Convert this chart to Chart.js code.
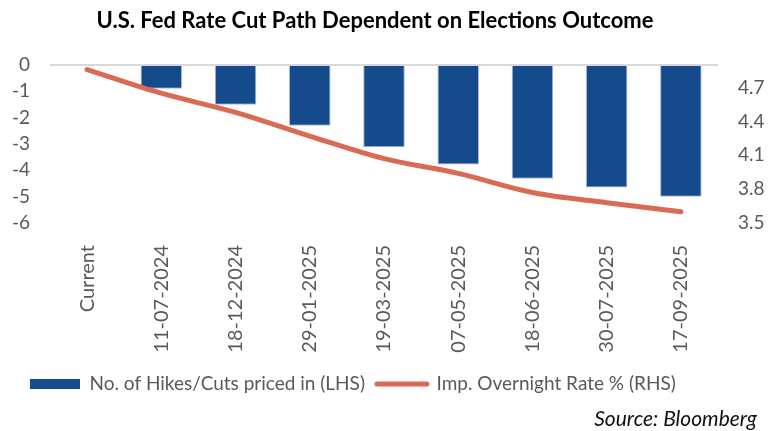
<!DOCTYPE html>
<html>
<head>
<meta charset="utf-8">
<script src="https://cdn.jsdelivr.net/npm/chart.js@4.4.1/dist/chart.umd.min.js"></script>
<style>
  html, body { margin: 0; padding: 0; background: #fff; }
  #wrap { width: 772px; height: 431px; }
</style>
</head>
<body>
<div id="wrap"><canvas id="fedChart" width="772" height="431"></canvas></div>
<script>
var MEETINGS = ['Current', '11-07-2024', '18-12-2024', '29-01-2025', '19-03-2025',
  '07-05-2025', '18-06-2025', '30-07-2025', '17-09-2025'];
var CUTS_PRICED = [0, -0.9, -1.51, -2.31, -3.12, -3.78, -4.32, -4.65, -5.0];
var OVERNIGHT_RATE = [4.86, 4.65, 4.48, 4.27, 4.07, 3.94, 3.77, 3.68, 3.60];
var LHS_TICKS = [-6, -5, -4, -3, -2, -1, 0];
var RHS_TICKS = [3.5, 3.8, 4.1, 4.4, 4.7];

var BAR_COLOR = '#154a8c';
var LINE_COLOR = '#db6a55';
var TEXT_GRAY = '#595959';

Chart.defaults.font.family = 'Lato, "Open Sans", sans-serif';
Chart.defaults.color = TEXT_GRAY;

// nudge title and legend the way the original sits on the page
var shiftPlugin = {
  id: 'shiftBlocks',
  afterLayout: function(chart) {
    if (chart.titleBlock) chart.titleBlock.right -= 22;
    if (chart.legend) chart.legend.left = 18;
  }
};

var sourcePlugin = {
  id: 'sourceNote',
  afterDraw: function(chart) {
    var ctx = chart.ctx;
    ctx.save();
    ctx.font = 'italic 21px Lato, "Open Sans", sans-serif';
    ctx.fillStyle = '#111';
    ctx.textAlign = 'right';
    ctx.textBaseline = 'middle';
    ctx.fillText('Source: Bloomberg', 757, 419);
    ctx.restore();
  }
};

new Chart(document.getElementById('fedChart'), {
  type: 'bar',
  data: {
    labels: MEETINGS,
    datasets: [{
      type: 'line',
      label: 'Imp. Overnight Rate % (RHS)',
      data: OVERNIGHT_RATE,
      yAxisID: 'yR',
      borderColor: LINE_COLOR,
      backgroundColor: LINE_COLOR,
      borderWidth: 5,
      borderCapStyle: 'round',
      pointRadius: 0,
      tension: 0.35,
      fill: false
    }, {
      type: 'bar',
      label: 'No. of Hikes/Cuts priced in (LHS)',
      data: CUTS_PRICED,
      yAxisID: 'yL',
      backgroundColor: BAR_COLOR,
      borderColor: '#a9bbd6',
      borderWidth: 1,
      borderSkipped: 'start',
      barPercentage: 1,
      categoryPercentage: 0.56
    }]
  },
  options: {
    responsive: false,
    animation: false,
    layout: { padding: { top: 0, left: 0, right: 0, bottom: 27.5 } },
    plugins: {
      title: {
        display: true,
        text: 'U.S. Fed Rate Cut Path Dependent on Elections Outcome',
        color: '#000',
        font: { size: 22, weight: 'bold' },
        padding: { top: 8, bottom: 30.6 }
      },
      legend: {
        position: 'bottom',
        align: 'start',
        labels: {
          color: TEXT_GRAY,
          font: { size: 19 },
          usePointStyle: true,
          pointStyleWidth: 50,
          boxHeight: 10,
          padding: 12,
          generateLabels: function(chart) {
            var items = Chart.defaults.plugins.legend.labels.generateLabels(chart);
            items.forEach(function(it) {
              var ds = chart.data.datasets[it.datasetIndex];
              if (ds.type === 'line') {
                it.pointStyle = 'line';
                it.lineWidth = 5;
                it.lineCap = 'round';
                it.strokeStyle = ds.borderColor;
              } else {
                it.pointStyle = 'rect';
                it.lineWidth = 0;
                it.fillStyle = ds.backgroundColor;
              }
              it.fontColor = TEXT_GRAY;
            });
            return items.reverse();
          }
        }
      },
      tooltip: { enabled: false }
    },
    scales: {
      x: {
        offset: true,
        grid: { display: false },
        border: { display: false },
        ticks: {
          color: TEXT_GRAY,
          font: { size: 20 },
          autoSkip: false,
          minRotation: 90,
          maxRotation: 90,
          padding: 14
        },
        afterFit: function(scale) { scale.height = 139.5; }
      },
      yL: {
        position: 'left',
        min: -6,
        max: 0,
        border: { display: false },
        grid: {
          drawTicks: false,
          lineWidth: 2,
          color: function(c) { return c.tick && c.tick.value === 0 ? '#d9d9d9' : 'rgba(0,0,0,0)'; }
        },
        ticks: {
          color: TEXT_GRAY,
          font: { size: 19 },
          padding: 20
        },
        afterBuildTicks: function(scale) {
          scale.ticks = LHS_TICKS.map(function(v) { return { value: v }; });
        },
        afterFit: function(scale) { scale.width = 50; }
      },
      yR: {
        position: 'right',
        min: 3.5,
        max: 4.9,
        border: { display: false },
        grid: { display: false, drawTicks: false },
        ticks: {
          color: TEXT_GRAY,
          font: { size: 19 },
          padding: 20,
          callback: function(v) { return v.toFixed(1); }
        },
        afterBuildTicks: function(scale) {
          scale.ticks = RHS_TICKS.map(function(v) { return { value: v }; });
        },
        afterFit: function(scale) { scale.width = 54; }
      }
    }
  },
  plugins: [shiftPlugin, sourcePlugin]
});
</script>
</body>
</html>
